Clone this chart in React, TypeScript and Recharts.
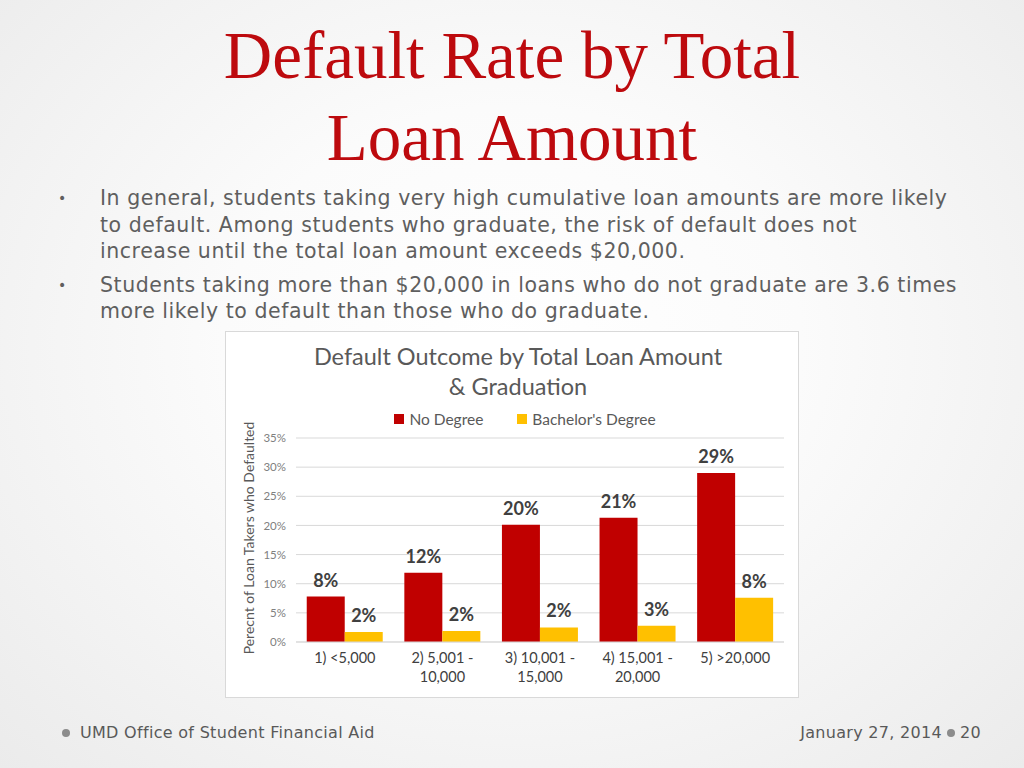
import React from 'react';
import { BarChart, Bar, XAxis, YAxis, CartesianGrid, LabelList, Legend, Label } from 'recharts';

const categories = ['1) <5,000', '2) 5,001 - 10,000', '3) 10,001 - 15,000', '4) 15,001 - 20,000', '5) >20,000'];
const tickLines = [['1) <5,000'], ['2) 5,001 -', '10,000'], ['3) 10,001 -', '15,000'], ['4) 15,001 -', '20,000'], ['5) >20,000']];
const noDegree = [7.8, 11.9, 20.1, 21.3, 29.0];
const bachelors = [1.7, 1.9, 2.5, 2.8, 7.6];
const noDegreeLabels = ['8%', '12%', '20%', '21%', '29%'];
const bachelorLabels = ['2%', '2%', '2%', '3%', '8%'];
const yTicks = [0, 5, 10, 15, 20, 25, 30, 35];
const seriesNames = ['No Degree', "Bachelor's Degree"];
const seriesColors = ['#c00000', '#ffc000'];

const data = categories.map((c, i) => ({
  cat: c,
  nd: noDegree[i],
  ba: bachelors[i],
  ndl: noDegreeLabels[i],
  bal: bachelorLabels[i],
}));

const CAL = 'Lato, "Open Sans", sans-serif';
const GOTHIC = '"DejaVu Sans", sans-serif';

const XTick = (props: any) => {
  const { x, y, payload } = props;
  const idx = categories.indexOf(payload.value);
  const lines = tickLines[idx] || [payload.value];
  return (
    <text x={x} y={y} textAnchor="middle" fill="#404040" fontSize={14.5} fontFamily={CAL}>
      {lines.map((l, k) => (
        <tspan key={k} x={x} dy={k === 0 ? 13 : 19}>{l}</tspan>
      ))}
    </text>
  );
};

const LegendContent = () => (
  <div style={{ display: 'flex', justifyContent: 'center', paddingLeft: 26, fontFamily: CAL, fontSize: 15.5, color: '#595959', lineHeight: '18px' }}>
    {seriesNames.map((n, i) => (
      <div key={n} style={{ display: 'flex', alignItems: 'center', marginRight: i === 0 ? 34 : 0 }}>
        <span style={{ display: 'inline-block', width: 10, height: 10, background: seriesColors[i], marginRight: 5 }} />
        <span>{n}</span>
      </div>
    ))}
  </div>
);

export default function App() {
  return (
    <div
      style={{
        position: 'absolute',
        left: 0,
        top: 0,
        width: 1024,
        height: 768,
        overflow: 'hidden',
        background: 'radial-gradient(ellipse at 50% 45%, #ffffff 0%, #fbfbfb 40%, #ebebeb 100%)',
      }}
    >
      <div
        style={{
          position: 'absolute',
          top: 14,
          left: 0,
          width: 1024,
          textAlign: 'center',
          fontFamily: '"Liberation Serif", serif',
          fontSize: 67,
          lineHeight: '82px',
          color: '#bd0a0e',
        }}
      >
        Default Rate by Total
        <br />
        Loan Amount
      </div>

      <div style={{ position: 'absolute', top: 185, left: 0, width: 1024, fontFamily: GOTHIC, fontSize: 20.5, letterSpacing: 0.55, lineHeight: '26.5px', color: '#5f5f5f' }}>
        <div style={{ position: 'relative', paddingLeft: 100 }}>
          <span style={{ position: 'absolute', left: 58, fontSize: 14 }}>•</span>
          In general, students taking very high cumulative loan amounts are more likely
          <br />
          to default. Among students who graduate, the risk of default does not
          <br />
          increase until the total loan amount exceeds $20,000.
        </div>
        <div style={{ position: 'relative', paddingLeft: 100, marginTop: 7 }}>
          <span style={{ position: 'absolute', left: 58, fontSize: 14 }}>•</span>
          Students taking more than $20,000 in loans who do not graduate are 3.6 times
          <br />
          more likely to default than those who do graduate.
        </div>
      </div>

      <div
        style={{
          position: 'absolute',
          left: 226,
          top: 332,
          width: 572,
          height: 365,
          background: '#ffffff',
          boxShadow: '0 0 0 1px #d9d9d9',
        }}
      >
        <div
          style={{
            position: 'absolute',
            top: 9,
            left: 6,
            width: 572,
            textAlign: 'center',
            fontFamily: CAL,
            fontSize: 23.5,
            lineHeight: '30px',
            color: '#595959',
          }}
        >
          Default Outcome by Total Loan Amount
          <br />
          &amp; Graduation
        </div>
        <BarChart
          width={572}
          height={365}
          data={data}
          margin={{ top: 106, right: 14, bottom: 0, left: 0 }}
          barCategoryGap="11%"
          barGap={0}
        >
          <CartesianGrid horizontal vertical={false} stroke="#d9d9d9" />
          <XAxis dataKey="cat" height={55} axisLine={{ stroke: '#d9d9d9' }} tickLine={false} tick={<XTick />} interval={0} />
          <YAxis
            width={70}
            domain={[0, 35]}
            ticks={yTicks}
            tickFormatter={(v: number) => `${v}%`}
            axisLine={false}
            tickLine={false}
            tick={{ fill: '#808080', fontSize: 11.5, fontFamily: CAL }}
            tickMargin={4}
          >
            <Label
              content={() => (
                <text
                  transform="translate(22,206) rotate(-90)"
                  textAnchor="middle"
                  dominantBaseline="central"
                  fill="#595959"
                  fontSize={14}
                  fontFamily={CAL}
                >
                  Perecnt of Loan Takers who Defaulted
                </text>
              )}
            />
          </YAxis>
          <Legend verticalAlign="middle" align="center" layout="horizontal" wrapperStyle={{ top: 78, left: 0, width: 572 }} content={<LegendContent />} />
          <Bar dataKey="nd" name={seriesNames[0]} fill={seriesColors[0]} isAnimationActive={false}>
            <LabelList dataKey="ndl" position="top" offset={10} fill="#404040" fontSize={18} fontWeight="bold" fontFamily={CAL} />
          </Bar>
          <Bar dataKey="ba" name={seriesNames[1]} fill={seriesColors[1]} isAnimationActive={false}>
            <LabelList dataKey="bal" position="top" offset={10} fill="#404040" fontSize={18} fontWeight="bold" fontFamily={CAL} />
          </Bar>
        </BarChart>
      </div>

      <div style={{ position: 'absolute', top: 723, left: 0, width: 1024, height: 20, fontFamily: GOTHIC, fontSize: 16, letterSpacing: 0.3, color: '#595959', lineHeight: '20px' }}>
        <span style={{ position: 'absolute', left: 62, top: 6, width: 8, height: 8, borderRadius: 4, background: '#8c8c8c' }} />
        <span style={{ position: 'absolute', left: 80 }}>UMD Office of Student Financial Aid</span>
        <span style={{ position: 'absolute', right: 82 }}>January 27, 2014</span>
        <span style={{ position: 'absolute', left: 947, top: 6, width: 8, height: 8, borderRadius: 4, background: '#8c8c8c' }} />
        <span style={{ position: 'absolute', left: 960 }}>20</span>
      </div>
    </div>
  );
}
